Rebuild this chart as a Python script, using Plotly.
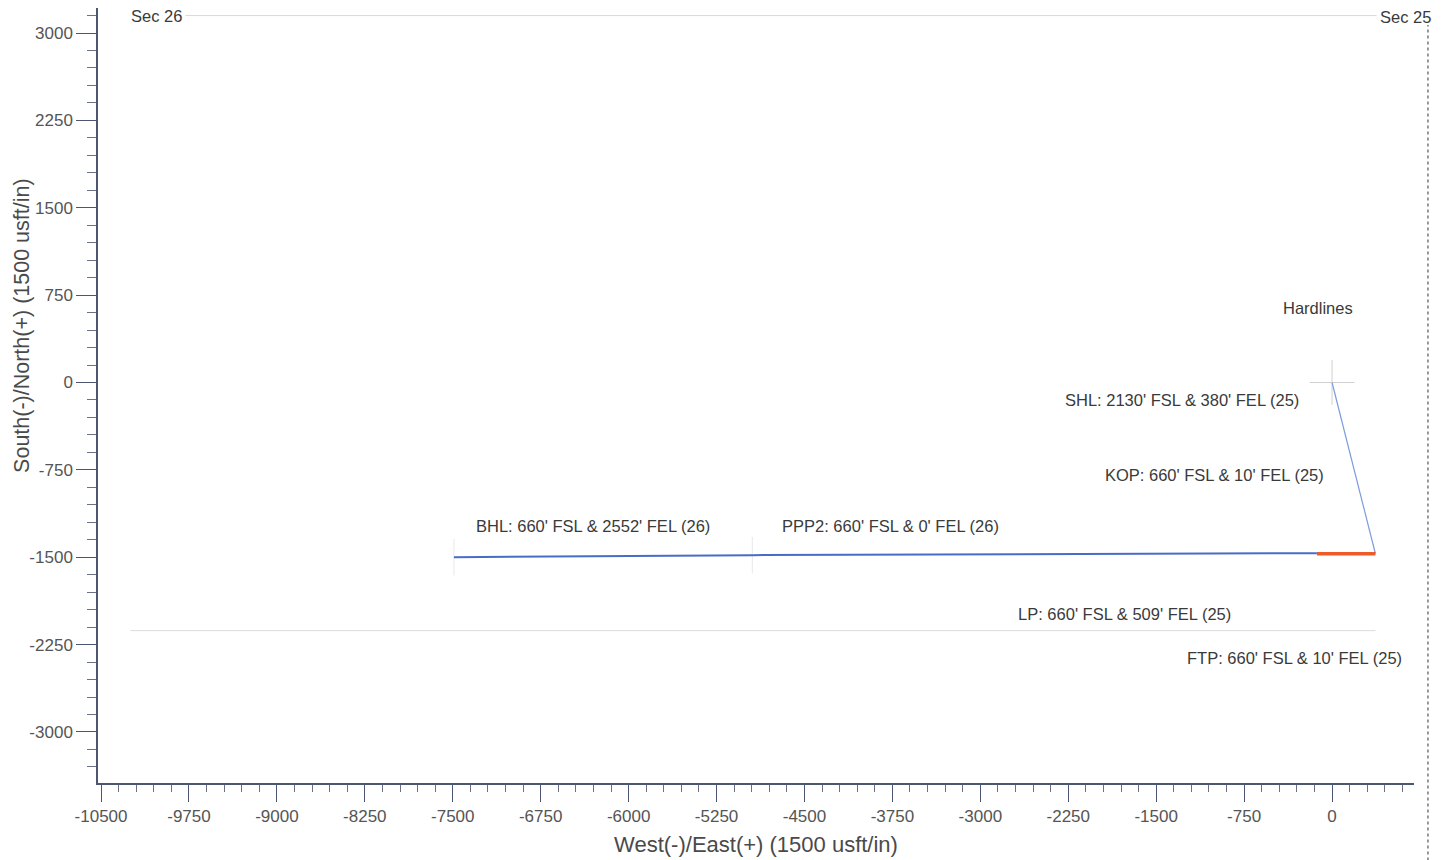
import plotly.graph_objects as go

# ---- data (usft, relative to SHL) ----
tangent_x = [0, 370]          # SHL -> KOP
tangent_y = [0, -1470]
build_x = [370, -129]         # KOP -> LP (orange)
build_y = [-1470, -1470]
lateral_x = [-129, -4945, -7490]   # LP -> PPP2 -> BHL
lateral_y = [-1465, -1482, -1500]

marker_x = [-7490, -4945]
marker_y = [-1500, -1482]
shl_x = [0]
shl_y = [0]

north_line_x = [-9780, 380]
north_line_y = [3150, 3150]
south_line_x = [-10250, 370]
south_line_y = [-2130, -2130]

x_ticks = [-10500, -9750, -9000, -8250, -7500, -6750, -6000, -5250, -4500,
           -3750, -3000, -2250, -1500, -750, 0]
x_tick_text = ["-10500", "-9750", "-9000", "-8250", "-7500", "-6750", "-6000",
               "-5250", "-4500", "-3750", "-3000", "-2250", "-1500", "-750", "0"]
y_ticks = [-3000, -2250, -1500, -750, 0, 750, 1500, 2250, 3000]
y_tick_text = ["-3000", "-2250", "-1500", "-750", "0", "750", "1500", "2250", "3000"]

labels = [
    "BHL: 660' FSL & 2552' FEL (26)",
    "PPP2: 660' FSL & 0' FEL (26)",
    "SHL: 2130' FSL & 380' FEL (25)",
    "KOP: 660' FSL & 10' FEL (25)",
    "LP: 660' FSL & 509' FEL (25)",
    "FTP: 660' FSL & 10' FEL (25)",
    "Hardlines",
    "Sec 26",
    "Sec 25",
]
label_x = [-6303, -3770, -1279, -1006, -1774, -324, -119, -10031, 623]
label_y = [-1232, -1232, -150, -794, -1987, -2365, 639, 3146, 3137]

FONT = "Liberation Sans, Arial, sans-serif"

fig = go.Figure()
fig.add_trace(go.Scatter(x=north_line_x, y=north_line_y, mode="lines",
                         line=dict(color="#d8d8d8", width=1), showlegend=False))
fig.add_trace(go.Scatter(x=south_line_x, y=south_line_y, mode="lines",
                         line=dict(color="#dcdcdc", width=1), showlegend=False))
fig.add_trace(go.Scatter(x=marker_x, y=marker_y, mode="markers",
                         marker=dict(symbol="line-ns", size=26,
                                     line=dict(color="#e8e8e8", width=1)),
                         showlegend=False))
fig.add_trace(go.Scatter(x=shl_x, y=shl_y, mode="markers",
                         marker=dict(symbol="cross-thin", size=32,
                                     line=dict(color="#d0d0d0", width=1)),
                         showlegend=False))
fig.add_trace(go.Scatter(x=tangent_x, y=tangent_y, mode="lines",
                         line=dict(color="#7d9be0", width=1.2), showlegend=False))
fig.add_trace(go.Scatter(x=lateral_x, y=lateral_y, mode="lines",
                         line=dict(color="#4a6cc8", width=2), showlegend=False))
fig.add_trace(go.Scatter(x=build_x, y=build_y, mode="lines",
                         line=dict(color="#ee5a2a", width=3.5), showlegend=False))

for t, lx, ly in zip(labels, label_x, label_y):
    fig.add_annotation(x=lx, y=ly, text=t, showarrow=False,
                       xanchor="center", yanchor="middle",
                       font=dict(family=FONT, size=16.5, color="#3a3a3a"))

fig.add_annotation(xref="paper", yref="paper", x=-0.0578, y=0.591,
                   xanchor="center", yanchor="middle",
                   text="South(-)/North(+) (1500 usft/in)", textangle=-90,
                   showarrow=False, font=dict(family=FONT, size=21.5, color="#4a4a4a"))

fig.add_shape(type="line", xref="paper", yref="paper",
              x0=1.0106, x1=1.0106, y0=-0.1, y1=0.978,
              line=dict(color="#777777", width=1.5, dash="dot"))

axis_common = dict(
    showgrid=False, zeroline=False, showline=True, linecolor="#4d5670",
    linewidth=1.5, ticks="outside", tickcolor="#4d5670",
    tickwidth=1.2, automargin=False,
    tickfont=dict(family=FONT, size=17, color="#555555"),
)

fig.update_layout(
    width=1442, height=852,
    margin=dict(l=90, r=36, t=0, b=77),
    paper_bgcolor="white", plot_bgcolor="white",
    xaxis=dict(range=[-10526, 699], tickvals=x_ticks, ticktext=x_tick_text,
               ticklen=17,
               minor=dict(ticks="outside", ticklen=7, dtick=150, tick0=0,
                          tickcolor="#6a7088", showgrid=False),
               title=dict(text="West(-)/East(+) (1500 usft/in)",
                          font=dict(family=FONT, size=22, color="#4a4a4a"),
                          standoff=11),
               **axis_common),
    yaxis=dict(range=[-3438, 3215], tickvals=y_ticks, ticktext=y_tick_text,
               ticklen=20,
               minor=dict(ticks="outside", ticklen=9, dtick=150, tick0=0,
                          tickcolor="#6a7088", showgrid=False),
               **axis_common),
    showlegend=False,
)

fig.write_html("out.html")
